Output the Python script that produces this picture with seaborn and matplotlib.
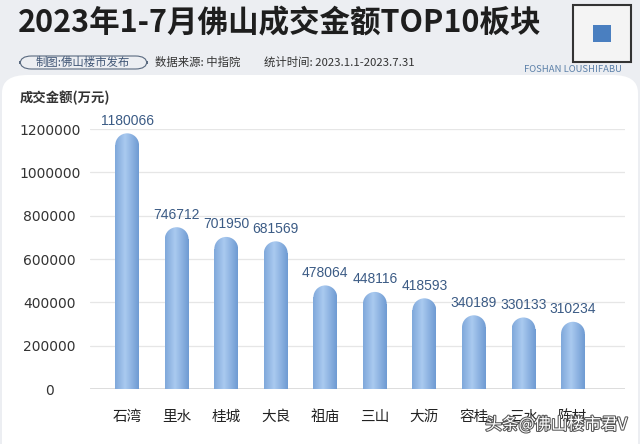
import numpy as np
import pandas as pd
import matplotlib
matplotlib.use("Agg")
import matplotlib.pyplot as plt
import seaborn as sns
from matplotlib.patches import FancyBboxPatch, Ellipse, Rectangle
from matplotlib.colors import LinearSegmentedColormap
import matplotlib.patheffects as pe

categories = ["石湾", "里水", "桂城", "大良", "祖庙", "三山", "大沥", "容桂", "三水", "陈村"]
values = [1180066, 746712, 701950, 681569, 478064, 448116, 418593, 340189, 330133, 310234]
yticks = [0, 200000, 400000, 600000, 800000, 1000000, 1200000]

title = "2023年1-7月佛山成交金额TOP10板块"
ylabel = "成交金额(万元)"

sns.set_theme(style="white")
plt.rcParams['font.family'] = ['Noto Sans CJK SC', 'DejaVu Sans']

W, H = 640, 444
fig = plt.figure(figsize=(W / 100, H / 100), dpi=100)
fig.patch.set_facecolor("#eceef2")

# white chart panel
panel = FancyBboxPatch((2 / W, -0.05), (W - 4) / W, (H - 75) / H + 0.05,
                       boxstyle="round,pad=0,rounding_size=0.04",
                       transform=fig.transFigure, facecolor="white",
                       edgecolor="none", zorder=-5)
fig.patches.append(panel)

# header texts
fig.text(18 / W, 1 - 23 / H, title, fontsize=22, fontweight="bold",
         color="#1e1e1e", va="center", ha="left")
pill = FancyBboxPatch((20 / W, 1 - 69 / H), 127 / W, 13 / H,
                      boxstyle="round,pad=0,rounding_size=0.018",
                      transform=fig.transFigure, facecolor="none",
                      edgecolor="#5a6a80", linewidth=0.8)
fig.patches.append(pill)
fig.text(83 / W, 1 - 62.5 / H, "制图:佛山楼市发布", fontsize=8.2, color="#3f5575",
         ha="center", va="center")
fig.text(155 / W, 1 - 62.5 / H, "数据来源: 中指院", fontsize=8.2, color="#333333",
         ha="left", va="center")
fig.text(264 / W, 1 - 62.5 / H, "统计时间: 2023.1.1-2023.7.31", fontsize=8.2,
         color="#333333", ha="left", va="center")
fig.text(573 / W, 1 - 70 / H, "FOSHAN LOUSHIFABU", fontsize=6.8, color="#5a7fa8",
         ha="center", va="center")
# QR placeholder
fig.patches.append(Rectangle((573 / W, 1 - 62 / H), 58 / W, 57 / H,
                             transform=fig.transFigure, facecolor="#f4f4f4",
                             edgecolor="#333333", linewidth=1.5))
fig.patches.append(Rectangle((593 / W, 1 - 42 / H), 18 / W, 17 / H,
                             transform=fig.transFigure, facecolor="#4a7fc0",
                             edgecolor="none"))

# axes
ax = fig.add_axes([90 / W, 55 / H, 535 / W, 260 / H])
ax.set_facecolor("none")
df = pd.DataFrame({"cat": categories, "val": values})
sns.barplot(data=df, x="cat", y="val", color="#8db3e2", width=0.48,
            ax=ax, zorder=3, saturation=1)

XL = (-0.75, 10.05)
ax.set_ylim(0, 1200000)
ax.set_xlim(*XL)
ax.set_yticks(yticks)
ax.set_yticklabels([str(v) for v in yticks], fontsize=10, color="#333333",
                   family="DejaVu Sans")
for t in ax.get_yticklabels():
    t.set_ha("center")
ax.tick_params(axis="y", length=0, pad=29)
ax.tick_params(axis="x", length=0, pad=15, labelsize=10.5, labelcolor="#222222")
ax.set_xlabel("")
ax.set_ylabel("")
for s in ax.spines.values():
    s.set_visible(False)
ax.grid(axis="y", color="#e6e6e6", linewidth=0.9, zorder=0)
ax.axhline(0, color="#d8d8d8", linewidth=1.2, zorder=1)

# rounded tops + gradient
g = np.linspace(0, 1, 64)
g = np.clip(1 - np.abs(g - 0.42) * 1.7, 0, 1)[None, :]
cmap = LinearSegmentedColormap.from_list("b", ["#6f9bd3", "#a9c9ef"])
ppy = 260 / 1200000.0
ppx = 535 / (XL[1] - XL[0])
for p in list(ax.patches):
    x, w, h = p.get_x(), p.get_width(), p.get_height()
    ry = (w / 2) * ppx / ppy
    p.set_visible(False)
    rect = Rectangle((x, 0), w, h - ry, transform=ax.transData)
    ell = Ellipse((x + w / 2, h - ry), w, 2 * ry, transform=ax.transData)
    for clip in (rect, ell):
        im = ax.imshow(g, cmap=cmap, aspect="auto", extent=(x, x + w, 0, h),
                       zorder=3, interpolation="bilinear")
        im.set_clip_path(clip)
ax.set_xlim(*XL)
ax.set_ylim(0, 1200000)

for i, v in enumerate(values):
    ax.annotate(str(v), (i, v), xytext=(0, 4), textcoords="offset points",
                ha="center", va="bottom", fontsize=10, color="#3b5b85",
                family="Liberation Sans", annotation_clip=False)

fig.text(20 / W, 1 - 98 / H, ylabel, fontsize=9.6, fontweight="bold",
         color="#333333", ha="left", va="center")

fig.text(627 / W, 1 - 425 / H, "头条@佛山楼市君V", fontsize=12, color="white",
         ha="right", va="center",
         path_effects=[pe.withStroke(linewidth=1.5, foreground="#555555")])

fig.savefig("out.png", dpi=100, facecolor=fig.get_facecolor())
